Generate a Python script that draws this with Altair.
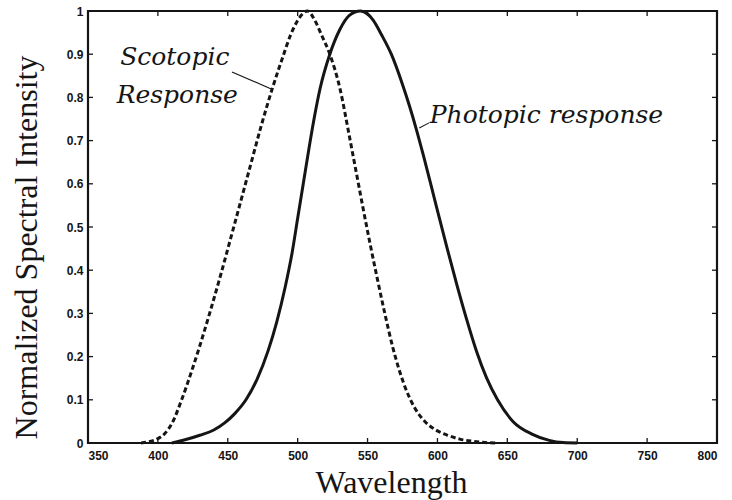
import altair as alt
import pandas as pd

# Scotopic (rod) sensitivity, dashed curve
scot_wl = [388, 395, 400, 405, 410, 417, 424, 430, 437, 445, 452, 460, 467, 474, 482,
           489, 495, 500, 504, 507, 512, 517, 523, 530, 537, 542, 547, 552, 557, 562,
           568, 577, 584, 591, 600, 608, 616, 625, 634, 642]
scot_val = [0.0, 0.004, 0.01, 0.022, 0.045, 0.1, 0.165, 0.225, 0.3, 0.39, 0.473,
            0.568, 0.652, 0.735, 0.822, 0.89, 0.945, 0.978, 0.995, 1.0, 0.98, 0.945,
            0.9, 0.824, 0.71, 0.625, 0.54, 0.458, 0.38, 0.305, 0.222, 0.128, 0.08,
            0.05, 0.028, 0.017, 0.009, 0.004, 0.001, 0.0]

# Photopic (cone) sensitivity, solid curve
phot_wl = [410, 420, 430, 440, 448, 455, 463, 471, 479, 485, 491, 496, 500, 504, 508,
           512, 516, 523, 530, 537, 545, 550, 554, 560, 567, 575, 580, 585, 590, 595,
           600, 607, 614, 621, 628, 635, 643, 654, 668, 680, 690, 700]
phot_val = [0.0, 0.008, 0.018, 0.03, 0.047, 0.068, 0.1, 0.148, 0.215, 0.28, 0.36, 0.44,
            0.52, 0.6, 0.68, 0.755, 0.82, 0.9, 0.956, 0.99, 1.0, 0.993, 0.979, 0.945,
            0.9, 0.83, 0.78, 0.725, 0.665, 0.602, 0.538, 0.45, 0.365, 0.285, 0.212,
            0.152, 0.1, 0.05, 0.02, 0.006, 0.001, 0.0]

# Annotation texts and their anchor points
label_text = ["Scotopic", "Response", "Photopic response"]
label_wl = [373.0, 370.5, 594.5]
label_val = [0.875, 0.787, 0.741]

# Leader lines from the labels to the curves
lead_id = ["s", "s", "p", "p"]
lead_wl = [453.0, 481.5, 587.0, 594.0]
lead_val = [0.859, 0.819, 0.729, 0.741]

x_ticks = [350, 400, 450, 500, 550, 600, 650, 700, 750, 800]
y_ticks = [0, 0.1, 0.2, 0.3, 0.4, 0.5, 0.6, 0.7, 0.8, 0.9, 1]

W, H = 629, 432
TICK = 5
INK = "#151515"

xs = alt.Scale(domain=[350, 800], nice=False, zero=False)
ys = alt.Scale(domain=[0, 1], nice=False)

scot = pd.DataFrame({"wl": scot_wl, "v": scot_val})
phot = pd.DataFrame({"wl": phot_wl, "v": phot_val})
labels = pd.DataFrame({"t": label_text, "wl": label_wl, "v": label_val})
leads = pd.DataFrame({"id": lead_id, "wl": lead_wl, "v": lead_val})
xt = pd.DataFrame({"t": x_ticks})
yt = pd.DataFrame({"t": y_ticks})

x_axis = alt.Axis(
    values=x_ticks, title="Wavelength", grid=False, domain=False, ticks=False,
    labelFont="Liberation Sans", labelFontSize=12, labelColor=INK, labelPadding=7,
    labelFontWeight="bold",
    titleFont="Liberation Serif", titleFontSize=32, titleFontWeight="normal",
    titleColor=INK, titleX=303, titleY=49, titleBaseline="alphabetic",
)
y_axis = alt.Axis(
    values=y_ticks, format="~g", title="Normalized Spectral Intensity", grid=False,
    domain=False, ticks=False,
    labelFont="Liberation Sans", labelFontSize=12, labelColor=INK, labelPadding=5,
    labelFontWeight="bold",
    titleFont="Liberation Serif", titleFontSize=32, titleFontWeight="normal",
    titleColor=INK, titleX=-62, titleY=236, titleAngle=-90, titleBaseline="middle",
    titleAlign="center",
)

scot_line = alt.Chart(scot).mark_line(
    color=INK, strokeWidth=3, strokeDash=[5, 3], interpolate="monotone"
).encode(x=alt.X("wl:Q", scale=xs, axis=x_axis), y=alt.Y("v:Q", scale=ys, axis=y_axis))

phot_line = alt.Chart(phot).mark_line(
    color=INK, strokeWidth=3, interpolate="monotone"
).encode(x=alt.X("wl:Q", scale=xs), y=alt.Y("v:Q", scale=ys))

lead_lines = alt.Chart(leads).mark_line(color=INK, strokeWidth=1.1).encode(
    x=alt.X("wl:Q", scale=xs), y=alt.Y("v:Q", scale=ys), detail="id:N"
)

text = alt.Chart(labels).mark_text(
    align="left", baseline="alphabetic", font="DejaVu Serif", fontStyle="italic",
    fontSize=25, color=INK
).encode(x=alt.X("wl:Q", scale=xs), y=alt.Y("v:Q", scale=ys), text="t:N")

# Inward tick marks on all four sides of the frame
tick_bottom = alt.Chart(xt).mark_rule(color=INK, strokeWidth=1.3).encode(
    x=alt.X("t:Q", scale=xs), y=alt.value(H), y2=alt.value(H - TICK))
tick_top = alt.Chart(xt).mark_rule(color=INK, strokeWidth=1.3).encode(
    x=alt.X("t:Q", scale=xs), y=alt.value(0), y2=alt.value(TICK))
tick_left = alt.Chart(yt).mark_rule(color=INK, strokeWidth=1.3).encode(
    y=alt.Y("t:Q", scale=ys), x=alt.value(0), x2=alt.value(TICK))
tick_right = alt.Chart(yt).mark_rule(color=INK, strokeWidth=1.3).encode(
    y=alt.Y("t:Q", scale=ys), x=alt.value(W), x2=alt.value(W - TICK))

chart = alt.layer(
    scot_line, phot_line, lead_lines, text,
    tick_bottom, tick_top, tick_left, tick_right,
).properties(
    width=W, height=H,
    autosize=alt.AutoSizeParams(type="none"),
    padding={"left": 88, "top": 11, "right": 15, "bottom": 57},
    background="white",
).configure_view(stroke=INK, strokeWidth=2.2)

chart.save("out.html", embed_options={"renderer": "svg", "actions": False})
